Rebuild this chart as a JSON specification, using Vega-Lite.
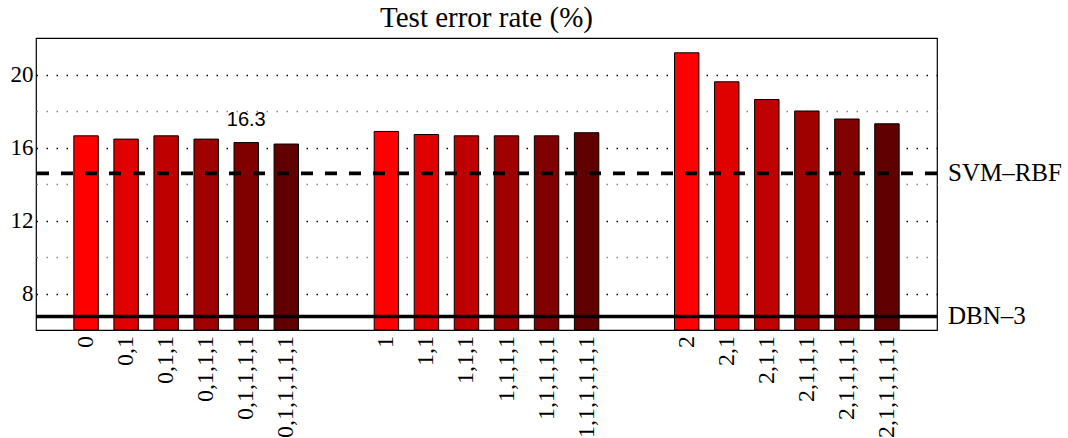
{
  "$schema": "https://vega.github.io/schema/vega-lite/v6.json",
  "autosize": "none",
  "width": 901,
  "height": 292,
  "padding": {"left": 36, "top": 38, "right": 131, "bottom": 108},
  "background": "white",
  "config": {
    "view": {"stroke": "black", "strokeWidth": 1.2},
    "font": "Liberation Serif"
  },
  "title": {
    "text": "Test error rate (%)",
    "font": "Liberation Serif",
    "fontSize": 29,
    "fontWeight": "normal",
    "color": "black",
    "anchor": "middle",
    "offset": 5
  },
  "datasets": {
    "bars": [
      {"group": "0", "depth": 1, "label": "0", "error": 16.64},
      {"group": "0", "depth": 2, "label": "0,1", "error": 16.46},
      {"group": "0", "depth": 3, "label": "0,1,1", "error": 16.64},
      {"group": "0", "depth": 4, "label": "0,1,1,1", "error": 16.46},
      {"group": "0", "depth": 5, "label": "0,1,1,1,1", "error": 16.27},
      {"group": "0", "depth": 6, "label": "0,1,1,1,1,1", "error": 16.19},
      {"group": "1", "depth": 1, "label": "1", "error": 16.88},
      {"group": "1", "depth": 2, "label": "1,1", "error": 16.71},
      {"group": "1", "depth": 3, "label": "1,1,1", "error": 16.64},
      {"group": "1", "depth": 4, "label": "1,1,1,1", "error": 16.64},
      {"group": "1", "depth": 5, "label": "1,1,1,1,1", "error": 16.64},
      {"group": "1", "depth": 6, "label": "1,1,1,1,1,1", "error": 16.81},
      {"group": "2", "depth": 1, "label": "2", "error": 21.19},
      {"group": "2", "depth": 2, "label": "2,1", "error": 19.6},
      {"group": "2", "depth": 3, "label": "2,1,1", "error": 18.63},
      {"group": "2", "depth": 4, "label": "2,1,1,1", "error": 18.0},
      {"group": "2", "depth": 5, "label": "2,1,1,1,1", "error": 17.56},
      {"group": "2", "depth": 6, "label": "2,1,1,1,1,1", "error": 17.3}
    ],
    "refs": [
      {"name": "SVM\u2013RBF", "value": 14.58, "kind": "dashed"},
      {"name": "DBN\u20133", "value": 6.74, "kind": "solid"}
    ],
    "note": [
      {"group": "0", "depth": 5, "value": 16.27, "text": "16.3"}
    ]
  },
  "data": {"name": "bars"},
  "encoding": {
    "x": {
      "field": "group",
      "type": "nominal",
      "scale": {"paddingInner": 0.2, "paddingOuter": 0.1},
      "axis": null
    },
    "xOffset": {
      "field": "depth",
      "type": "ordinal",
      "scale": {"paddingInner": 0.39, "paddingOuter": 0.195}
    }
  },
  "layer": [
    {
      "mark": {"type": "bar", "stroke": "black", "strokeWidth": 1, "clip": true},
      "encoding": {
        "y": {
          "field": "error",
          "type": "quantitative",
          "scale": {"domain": [6, 22], "nice": false, "zero": false},
          "axis": {
            "title": null,
            "values": [8, 10, 12, 14, 16, 18, 20],
            "labelExpr": "datum.value % 4 == 0 ? datum.label : ''",
            "labelFont": "Liberation Serif",
            "labelFontSize": 23,
            "labelColor": "black",
            "labelPadding": 3,
            "ticks": false,
            "domain": false,
            "grid": true,
            "gridColor": {"condition": {"test": "datum.value % 4 == 0", "value": "black"}, "value": "#888888"},
            "gridDash": [1.5, 8.5],
            "gridWidth": 1.3
          }
        },
        "y2": {"datum": 6},
        "color": {
          "field": "depth",
          "type": "ordinal",
          "scale": {"domain": [1, 2, 3, 4, 5, 6], "range": ["#FF0000", "#DF0000", "#BF0000", "#9F0000", "#800000", "#600000"]},
          "legend": null
        }
      }
    },
    {
      "mark": {"type": "text", "angle": 270, "align": "right", "baseline": "middle", "dx": -6, "font": "Liberation Serif", "fontSize": 24, "color": "black"},
      "encoding": {
        "y": {"datum": 6},
        "text": {"field": "label"}
      }
    },
    {
      "data": {"name": "note"},
      "mark": {"type": "text", "align": "center", "baseline": "bottom", "dy": -13, "font": "Liberation Sans", "fontSize": 20, "color": "black"},
      "encoding": {
        "x": {"field": "group", "type": "nominal"},
        "xOffset": {"field": "depth", "type": "ordinal"},
        "y": {"field": "value", "type": "quantitative"},
        "text": {"field": "text"}
      }
    },
    {
      "data": {"name": "refs"},
      "mark": {"type": "rule", "color": "black", "strokeWidth": 3.6},
      "encoding": {
        "y": {"field": "value", "type": "quantitative"},
        "strokeDash": {
          "field": "kind",
          "type": "nominal",
          "scale": {"domain": ["dashed", "solid"], "range": [[12, 12], [1, 0]]},
          "legend": null
        },
        "x": null,
        "xOffset": null
      }
    },
    {
      "data": {"name": "refs"},
      "mark": {"type": "text", "x": "width", "dx": 11, "align": "left", "baseline": "middle", "font": "Liberation Serif", "fontSize": 25, "color": "black"},
      "encoding": {
        "y": {"field": "value", "type": "quantitative"},
        "text": {"field": "name"},
        "x": null,
        "xOffset": null
      }
    }
  ]
}
